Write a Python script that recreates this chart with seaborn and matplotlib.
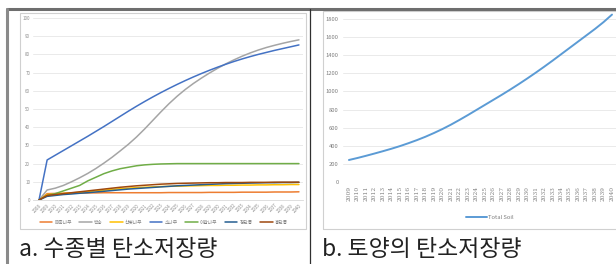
import numpy as np
import pandas as pd
import matplotlib
matplotlib.use('Agg')
import matplotlib.pyplot as plt
from matplotlib.lines import Line2D
from matplotlib.patches import Rectangle
import seaborn as sns

sns.set_style('white')
plt.rcParams['font.family'] = ['Noto Sans CJK KR', 'DejaVu Sans']

# ---- data (a) carbon storage by tree species ----
years_a = list(range(2008, 2041))
styrax = [0, 3.5, 3.6, 3.7, 3.8, 3.8, 3.9, 3.9, 4.0, 4.0, 4.0, 4.0, 4.0, 4.0, 4.0, 4.0,
          4.1, 4.1, 4.1, 4.1, 4.1, 4.2, 4.2, 4.2, 4.2, 4.3, 4.3, 4.3, 4.3, 4.4, 4.4, 4.4, 4.5]
white_pine = [0, 5.5, 6.5, 8, 10, 12.2, 14.6, 17.3, 20.3, 23.5, 27, 30.6, 34.6, 39.0, 43.7, 48.4,
              52.9, 57.0, 60.7, 64.0, 67.0, 69.8, 72.4, 74.8, 77.0, 79.0, 80.8, 82.4, 83.8, 85.0,
              86.1, 87.1, 88.0]
cherry = [0, 3.0, 3.3, 3.6, 3.9, 4.2, 4.6, 5.0, 5.4, 5.8, 6.2, 6.5, 6.8, 7.0, 7.2, 7.4,
          7.5, 7.6, 7.7, 7.8, 7.9, 8.0, 8.0, 8.1, 8.1, 8.2, 8.2, 8.3, 8.3, 8.4, 8.4, 8.5, 8.5]
pine = [0, 22, 24.6, 27.2, 29.8, 32.4, 35.0, 37.7, 40.4, 43.2, 46.0, 48.8, 51.5, 54.1, 56.6, 59.0,
        61.3, 63.5, 65.6, 67.6, 69.5, 71.3, 73.0, 74.6, 76.1, 77.5, 78.8, 80.0, 81.1, 82.2,
        83.2, 84.2, 85.2]
fringe = [0, 2.5, 3.5, 5, 6.5, 8, 10.5, 12.5, 14.5, 16, 17.2, 18, 18.8, 19.3, 19.6, 19.8,
          19.9, 20, 20, 20, 20, 20, 20, 20, 20, 20, 20, 20, 20, 20, 20, 20, 20]
green_maple = [0, 2.0, 2.5, 3.0, 3.3, 3.7, 4.0, 4.4, 4.8, 5.2, 5.6, 6.0, 6.3, 6.6, 6.9, 7.2,
               7.5, 7.8, 8.0, 8.2, 8.4, 8.6, 8.8, 9.0, 9.1, 9.2, 9.3, 9.4, 9.5, 9.5, 9.6, 9.6, 9.7]
red_maple = [0, 2.5, 3.0, 3.5, 4.0, 4.5, 5.0, 5.5, 6.0, 6.5, 7.0, 7.4, 7.8, 8.1, 8.4, 8.7,
             8.9, 9.1, 9.2, 9.3, 9.4, 9.5, 9.5, 9.6, 9.6, 9.6, 9.7, 9.7, 9.7, 9.8, 9.8, 9.8, 9.8]
species = ['때죽나무', '백송', '산벚나무', '소나무', '이팝나무', '청단풍', '홍단풍']
colors = ['#ED7D31', '#A5A5A5', '#FFC000', '#4472C4', '#70AD47', '#255E91', '#9E480E']

# ---- data (b) soil carbon storage ----
years_b = list(range(2009, 2041))
total_soil = [243, 265, 289, 314, 340, 367, 396, 428, 462, 499, 540, 584, 632, 684, 738, 794,
              850, 906, 962, 1020, 1080, 1142, 1206, 1272, 1340, 1410, 1480, 1550, 1620,
              1690, 1765, 1848]

W, H = 616, 264
fig = plt.figure(figsize=(W / 100, H / 100), dpi=100)


def box(x0, y0, x1, y1):
    # pixel box -> figure rect
    return [x0 / W, 1 - y1 / H, (x1 - x0) / W, (y1 - y0) / H]


# table borders and chart frames
fig.add_artist(Line2D([7 / W, 1], [1 - 9 / H, 1 - 9 / H], color='#6E6E6E', lw=2.2))
fig.add_artist(Line2D([7 / W, 7 / W], [0, 1 - 9 / H], color='#8A8A8A', lw=2.2))
fig.add_artist(Line2D([309.5 / W, 309.5 / W], [0, 1 - 9 / H], color='#303030', lw=0.9))
fig.add_artist(Rectangle((20 / W, 1 - 229 / H), 286 / W, 216 / H, transform=fig.transFigure,
                         fill=False, ec='#D0D0D0', lw=0.8))
fig.add_artist(Rectangle((323 / W, 1 - 229 / H), 300 / W, 218 / H, transform=fig.transFigure,
                         fill=False, ec='#D0D0D0', lw=0.8))

# ---- chart a ----
df_a = pd.DataFrame({'year': years_a, '때죽나무': styrax, '백송': white_pine, '산벚나무': cherry,
                     '소나무': pine, '이팝나무': fringe, '청단풍': green_maple, '홍단풍': red_maple})
long_a = df_a.melt(id_vars='year', var_name='species', value_name='carbon')

ax1 = fig.add_axes(box(33, 18, 303, 200))
sns.lineplot(data=long_a, x='year', y='carbon', hue='species', hue_order=species,
             palette=colors, linewidth=1.1, ax=ax1)
ax1.set_xlim(2008 - 0.74, 2040 + 0.5)
ax1.set_ylim(0, 100)
ax1.set_yticks(range(0, 101, 10))
ax1.set_xticks(years_a)
ax1.set_xticklabels([str(y) for y in years_a], rotation=45, ha='right', rotation_mode='anchor')
ax1.tick_params(axis='both', labelsize=3.2, colors='#8C8C8C', length=0, pad=2)
ax1.grid(axis='y', color='#E6E6E6', lw=0.6)
for s in ['top', 'right', 'left']:
    ax1.spines[s].set_visible(False)
ax1.spines['bottom'].set_color('#D9D9D9')
ax1.spines['bottom'].set_linewidth(0.6)
ax1.set_xlabel('')
ax1.set_ylabel('')
ax1.legend(loc='center', bbox_to_anchor=(164 / W, 1 - 222 / H), bbox_transform=fig.transFigure,
           ncol=7, frameon=False, fontsize=3.4, handlelength=2.6, columnspacing=1.6,
           handletextpad=0.5, labelcolor='#7F7F7F')

# ---- chart b ----
df_b = pd.DataFrame({'year': years_b, 'value': total_soil, 'series': 'Total Soil'})
ax2 = fig.add_axes(box(343, 12.6, 616, 182))
sns.lineplot(data=df_b, x='year', y='value', hue='series', palette=['#5B9BD5'],
             linewidth=1.4, ax=ax2)
ax2.set_xlim(2009 - 0.7, 2040 + 0.47)
ax2.set_ylim(0, 1870)
ax2.set_yticks(range(0, 1801, 200))
ax2.set_xticks(years_b)
ax2.set_xticklabels([str(y) for y in years_b], rotation=90, fontfamily='DejaVu Serif')
ax2.tick_params(axis='both', labelsize=4.2, colors='#7F7F7F', length=0, pad=3)
ax2.grid(axis='y', color='#E6E6E6', lw=0.6)
for s in ['top', 'right', 'left', 'bottom']:
    ax2.spines[s].set_visible(False)
ax2.set_xlabel('')
ax2.set_ylabel('')
ax2.legend(loc='center', bbox_to_anchor=(490 / W, 1 - 217 / H), bbox_transform=fig.transFigure,
           frameon=False, fontsize=4.2, handlelength=3.5, handletextpad=0.3, labelcolor='#7F7F7F')

# captions
fig.text(19 / W, 1 - 250 / H, 'a. 수종별 탄소저장량', fontsize=16.5, va='center', ha='left',
         color='#222222', fontweight='light')
fig.text(322 / W, 1 - 250 / H, 'b. 토양의 탄소저장량', fontsize=16.5, va='center', ha='left',
         color='#222222', fontweight='light')

fig.savefig('out.png', dpi=100)
